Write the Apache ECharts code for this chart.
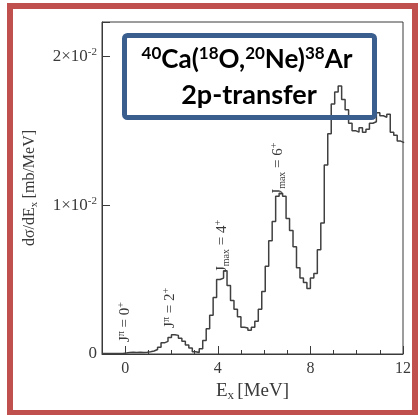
<!DOCTYPE html>
<html>
<head>
<meta charset="utf-8">
<script src="https://cdn.jsdelivr.net/npm/echarts@6/dist/echarts.min.js"></script>
<style>
  html, body { margin: 0; padding: 0; background: #fff; }
  #chart { width: 420px; height: 415px; }
</style>
</head>
<body>
<div id="chart"></div>
<script>
// Excitation-energy spectrum of 38Ar from 40Ca(18O,20Ne), binned histogram.
const binStart = -1.0;   // MeV, left edge of first bin
const binWidth = 0.15;   // MeV
// Counts per bin, in units of 10^-2 mb/MeV
const spectrum = [
  0.004, 0.004, 0.004, 0.004, 0.004, 0.004, 0.006, 0.010, 0.012, 0.010,
  0.012, 0.010, 0.012, 0.015, 0.020, 0.030, 0.045, 0.075, 0.085, 0.110,
  0.130, 0.125, 0.105, 0.085, 0.060, 0.040, 0.015, 0.010, 0.035, 0.090,
  0.170, 0.260, 0.380, 0.500, 0.510, 0.560, 0.460, 0.360, 0.300, 0.250,
  0.180, 0.175, 0.160, 0.180, 0.220, 0.300, 0.420, 0.590, 0.760, 0.890,
  1.060, 1.080, 1.060, 0.910, 0.830, 0.720, 0.580, 0.510, 0.480, 0.440,
  0.510, 0.540, 0.700, 0.880, 1.270, 1.480, 1.680, 1.760, 1.800, 1.710,
  1.640, 1.550, 1.500, 1.490, 1.520, 1.490, 1.510, 1.550, 1.560, 1.620,
  1.600, 1.590, 1.610, 1.490, 1.470, 1.430, 1.420
];
// Spin assignments: [energy (MeV), label base height (10^-2 mb/MeV), kind, spin]
const stateLabels = [
  [0.0, 0.08, 'pi', '0'],
  [1.95, 0.175, 'pi', '2'],
  [4.2, 0.55, 'max', '4'],
  [6.6, 1.07, 'max', '6']
];
const xLabelTicks = [0, 4, 8, 12];
const yLabelTicks = [0, 1, 2];
const reactionLine1 = [['sup', '40'], ['main', 'Ca('], ['sup', '18'], ['main', 'O,'], ['sup', '20'], ['main', 'Ne)'], ['sup', '38'], ['main', 'Ar']];
const reactionLine2 = '2p-transfer';

const serif = '"Liberation Serif", "DejaVu Serif", serif';
const ink = '#3a3a3a';

const stepData = spectrum.map((v, i) => [binStart + i * binWidth, v]);
stepData.push([binStart + spectrum.length * binWidth, spectrum[spectrum.length - 1]]);

const chart = echarts.init(document.getElementById('chart'));

const supRich = {
  m: { fontFamily: serif, fontSize: 17, color: ink, lineHeight: 20 },
  s: { fontFamily: serif, fontSize: 11, color: ink, lineHeight: 10, verticalAlign: 'top' }
};

chart.setOption({
  animation: false,
  backgroundColor: '#fff',
  grid: { left: 102, top: 22, right: 17, bottom: 61, show: true, borderColor: ink, borderWidth: 1 },
  xAxis: [{
    type: 'value', min: -1, max: 12, interval: 1,
    axisLine: { show: true, onZero: false, lineStyle: { color: ink, width: 1 } },
    splitLine: { show: false },
    axisTick: { show: true, inside: true, length: 4, lineStyle: { color: ink } },
    axisLabel: {
      customValues: xLabelTicks, margin: 7,
      fontFamily: serif, fontSize: 16, color: ink
    },
    name: '{e|E}{b|x} {e|[MeV]}',
    nameLocation: 'middle', nameGap: 19,
    nameTextStyle: {
      rich: {
        e: { fontFamily: serif, fontSize: 19, color: ink, lineHeight: 22 },
        b: { fontFamily: serif, fontSize: 13, color: ink, lineHeight: 12, verticalAlign: 'bottom' }
      }
    }
  }, {
    type: 'value', min: -1, max: 12, position: 'bottom',
    axisLine: { show: false, onZero: false }, splitLine: { show: false },
    axisTick: { show: true, inside: true, length: 8, customValues: xLabelTicks, lineStyle: { color: ink } },
    axisLabel: { show: false }
  }],
  yAxis: {
    type: 'value', min: 0, max: 2.23, interval: 1,
    axisLine: { show: true, onZero: false, lineStyle: { color: ink, width: 1 } },
    splitLine: { show: false },
    axisTick: { show: true, inside: true, length: 8, lineStyle: { color: ink } },
    axisLabel: {
      customValues: yLabelTicks, margin: 5,
      formatter: v => v === 0 ? '{m|0}' : '{m|' + v + '×10}{s|-2}',
      rich: supRich
    },
    name: '{m|dσ/dE}{b|x} {m|[mb/MeV]}',
    nameLocation: 'middle', nameGap: 62, nameRotate: 90,
    nameTextStyle: {
      rich: {
        m: { fontFamily: serif, fontSize: 16, color: ink, lineHeight: 20 },
        b: { fontFamily: serif, fontSize: 11, color: ink, lineHeight: 10, verticalAlign: 'bottom' }
      }
    }
  },
  series: [{
    type: 'line', step: 'end', data: stepData,
    showSymbol: false, symbol: 'none',
    lineStyle: { color: '#404040', width: 1.5 },
    clip: true, z: 3
  }]
});

// Spin labels, rotated to read upward, anchored through the axis scales
const spinGraphics = stateLabels.map(([e, h, kind, spin]) => {
  const [px, py] = chart.convertToPixel({ xAxisIndex: 0, yAxisIndex: 0 }, [e, h]);
  const text = kind === 'pi'
    ? '{m|J}{s|π}{m| = ' + spin + '}{s|+}'
    : '{m|J}{b|max}{m| = ' + spin + '}{s|+}';
  return {
    type: 'text', x: px, y: py, rotation: Math.PI / 2, z: 10,
    style: {
      text: text, align: 'left', verticalAlign: 'middle',
      rich: {
        m: { fontFamily: serif, fontSize: 15, fill: ink, lineHeight: 18 },
        s: { fontFamily: serif, fontSize: 10, fill: ink, lineHeight: 9, verticalAlign: 'top' },
        b: { fontFamily: serif, fontSize: 10, fill: ink, lineHeight: 9, verticalAlign: 'bottom' }
      }
    }
  };
});

const boxFont = 'Lato, "Open Sans", sans-serif';
const line1Text = reactionLine1.map(([k, t]) => '{' + k + '|' + t + '}').join('');

chart.setOption({
  graphic: [
    // outer red frame
    {
      type: 'rect', z: 20,
      shape: { x: 10, y: 6, width: 405, height: 407 },
      style: { fill: 'none', stroke: '#c0504d', lineWidth: 6 }
    },
    // reaction title box
    {
      type: 'rect', z: 20,
      shape: { x: 124.5, y: 35.5, width: 250, height: 82, r: 3 },
      style: { fill: 'none', stroke: '#3a5f8f', lineWidth: 5 }
    },
    {
      type: 'text', z: 21, x: 247, y: 60,
      style: {
        text: line1Text, align: 'center', verticalAlign: 'middle',
        rich: {
          main: { fontFamily: boxFont, fontWeight: 'bold', fontSize: 26, fill: '#000', lineHeight: 30 },
          sup: { fontFamily: boxFont, fontWeight: 'bold', fontSize: 17, fill: '#000', lineHeight: 17, verticalAlign: 'top' }
        }
      }
    },
    {
      type: 'text', z: 21, x: 249, y: 95,
      style: {
        text: reactionLine2, align: 'center', verticalAlign: 'middle',
        fontFamily: boxFont, fontWeight: 'bold', fontSize: 27, fill: '#000'
      }
    }
  ].concat(spinGraphics)
});
</script>
</body>
</html>
